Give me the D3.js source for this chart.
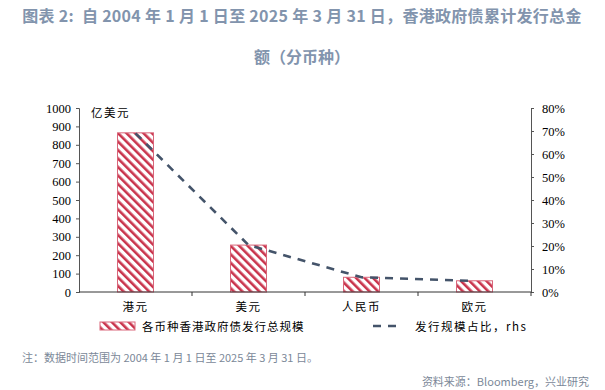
<!DOCTYPE html>
<html><head><meta charset="utf-8">
<script src="https://cdn.jsdelivr.net/npm/d3@7"></script>
<style>
body{margin:0;background:#fff;}
svg{display:block;}
text{white-space:pre;}
</style></head>
<body>
<svg id="c" width="605" height="390"></svg>
<script>
const categories = ["港元", "美元", "人民币", "欧元"];
const totals = [865, 255, 80, 61];
const shares = [0.69, 0.204, 0.064, 0.048];
const leftTicks = [0,100,200,300,400,500,600,700,800,900,1000];
const rightTicks = [0,0.1,0.2,0.3,0.4,0.5,0.6,0.7,0.8];

const svg = d3.select("#c");
const cjk = "'Noto Sans CJK SC','Noto Sans',sans-serif";
const serif = "'Liberation Serif','Times New Roman','DejaVu Serif',serif";

const defs = svg.append("defs");
const pat = defs.append("pattern").attr("id","hatch").attr("patternUnits","userSpaceOnUse")
  .attr("width",6).attr("height",6).attr("patternTransform","rotate(-45)");
pat.append("rect").attr("width",6).attr("height",6).attr("fill","#fff");
pat.append("rect").attr("x",0).attr("y",0).attr("width",2.6).attr("height",6).attr("fill","#c9344c");

// Title
svg.append("text").attr("x",302).attr("y",22).attr("text-anchor","middle")
  .style("font-family",cjk).style("font-size","16px").style("font-weight","bold").attr("fill","#8294ad")
  .style("letter-spacing","0.3px")
  .text("图表 2:  自 2004 年 1 月 1 日至 2025 年 3 月 31 日，香港政府债累计发行总金");
svg.append("text").attr("x",302).attr("y",63).attr("text-anchor","middle")
  .style("font-family",cjk).style("font-size","16px").style("font-weight","bold").attr("fill","#8294ad")
  .text("额（分币种）");

const x = d3.scaleBand().domain(categories).range([79,531]).paddingInner(0).paddingOuter(0);
const yL = d3.scaleLinear().domain([0,1000]).range([292,108]);
const yR = d3.scaleLinear().domain([0,0.8]).range([292,108]);
const barW = 36;

// Bars
svg.append("g").selectAll("rect").data(totals).join("rect")
  .attr("x",(d,i)=>x(categories[i])+x.bandwidth()/2-barW/2)
  .attr("y",d=>yL(d)).attr("width",barW).attr("height",d=>yL(0)-yL(d))
  .attr("fill","url(#hatch)").attr("stroke","#d9667a").attr("stroke-width",1);

// Left axis
const gl = svg.append("g").attr("transform","translate(79,0)")
  .call(d3.axisLeft(yL).tickValues(leftTicks).tickFormat(d3.format("d")).tickSize(3).tickPadding(5));
gl.attr("font-family",serif).attr("font-size",12.5);
gl.select(".domain").attr("stroke","#555");
gl.selectAll(".tick line").attr("stroke","#555");
gl.selectAll("text").attr("font-family",serif).style("font-family",serif).style("font-size","12.5px").attr("fill","#000");

// Right axis
const gr = svg.append("g").attr("transform","translate(531,0)")
  .call(d3.axisRight(yR).tickValues(rightTicks).tickFormat(d3.format(".0%")).tickSize(3).tickPadding(8));
gr.attr("font-family",serif).attr("font-size",12.5);
gr.select(".domain").attr("stroke","#555");
gr.selectAll(".tick line").attr("stroke","#555");
gr.selectAll("text").attr("font-family",serif).style("font-family",serif).style("font-size","12.5px").attr("fill","#000");

// Bottom axis
const xb = svg.append("g").attr("transform","translate(0,292)");
xb.append("line").attr("x1",79).attr("x2",531).attr("stroke","#333").attr("stroke-width",1);
xb.selectAll("line.t").data(categories.slice(1).concat(["end"])).join("line").attr("class","t")
  .attr("x1",(d,i)=>x.range()[0]+x.bandwidth()*(i+1)).attr("x2",(d,i)=>x.range()[0]+x.bandwidth()*(i+1))
  .attr("y1",0).attr("y2",4).attr("stroke","#333");
xb.selectAll("text").data(categories).join("text")
  .attr("x",d=>x(d)+x.bandwidth()/2).attr("y",19).attr("text-anchor","middle")
  .style("font-family",cjk).style("font-size","11.5px").style("letter-spacing","1.5px").attr("fill","#000").text(d=>d);

// Unit label
svg.append("text").attr("x",91).attr("y",117).style("font-family",cjk).style("font-size","11.5px")
  .style("letter-spacing","1.5px").attr("fill","#000").text("亿美元");

// Line
const line = d3.line().x((d,i)=>x(categories[i])+x.bandwidth()/2).y(d=>yR(d));
svg.append("path").datum(shares).attr("d",line).attr("fill","none")
  .attr("stroke","#44546a").attr("stroke-width",2.6).attr("stroke-dasharray","8,7");

// Legend
svg.append("rect").attr("x",100).attr("y",322).attr("width",35).attr("height",8)
  .attr("fill","url(#hatch)").attr("stroke","#d9667a").attr("stroke-width",1);
svg.append("text").attr("x",142).attr("y",331).style("font-family",cjk).style("font-size","11.5px")
  .style("letter-spacing","1px").attr("fill","#000").text("各币种香港政府债发行总规模");
svg.append("line").attr("x1",373).attr("x2",401).attr("y1",326).attr("y2",326)
  .attr("stroke","#44546a").attr("stroke-width",2.6).attr("stroke-dasharray","8,7");
svg.append("text").attr("x",415).attr("y",331).style("font-family",cjk).style("font-size","11.5px")
  .style("letter-spacing","1.5px").attr("fill","#000").text("发行规模占比，rhs");

// Notes
svg.append("text").attr("x",22).attr("y",362).style("font-family",cjk).style("font-size","11px")
  .attr("fill","#7b8898").text("注：数据时间范围为 2004 年 1 月 1 日至 2025 年 3 月 31 日。");
svg.append("text").attr("x",589).attr("y",386).attr("text-anchor","end").style("font-family",cjk).style("font-size","11px")
  .attr("fill","#7b8898").text("资料来源：Bloomberg，兴业研究");
</script>
</body></html>
